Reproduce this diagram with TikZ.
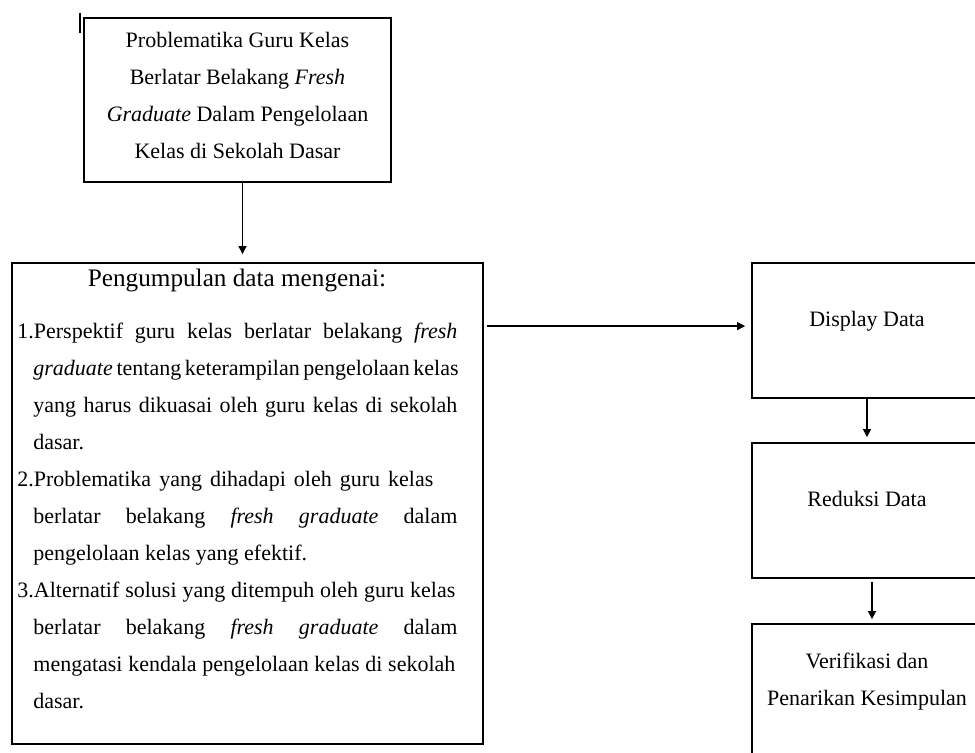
\documentclass[tikz,border=0pt]{standalone}
\usepackage{fontspec}
\setmainfont{Liberation Serif}
\usepackage{tikz}
\usetikzlibrary{positioning,arrows.meta}
\newcommand{\rata}[2]{\makebox[#1][s]{#2}}

\begin{document}
\begin{tikzpicture}[x=0.5pt,y=-0.5pt,
  kotak/.style={draw,line width=0.9pt,inner sep=0pt},
  teks/.style={font=\fontsize{11}{18.5}\selectfont},
  panah/.style={-{Triangle[length=4pt,width=4pt]},line width=0.6pt}]
\clip (0,0) rectangle (975,753);
% kursor kecil di kiri atas
\draw[line width=1pt] (80,13) -- (80,33);
\node[kotak,minimum width=153.5pt,minimum height=82pt] (masalah) at (237.5,100) {};
\node[teks,align=center,inner sep=0pt] (masalahteks) at (237.5,95) {Problematika Guru Kelas\\ Berlatar Belakang \textit{Fresh}\\ \textit{Graduate} Dalam Pengelolaan\\ Kelas di Sekolah Dasar};
\node[kotak,minimum width=235.5pt,minimum height=240.5pt] (kumpul) at (247.5,503.5) {};
\node[anchor=base,inner sep=0pt,font=\fontsize{12.6}{15}\selectfont] (judul) at (237,287) {Pengumpulan data mengenai:};
\node[teks,anchor=base west,inner sep=0pt,text width=220pt,align=left] (isi) at (17,339) {\spaceskip=0pt\relax
\rata{220pt}{1.Perspektif guru kelas berlatar belakang \textit{fresh}}\\
\hspace*{8pt}\rata{212pt}{\textit{graduate} tentang keterampilan pengelolaan kelas}\\
\hspace*{8pt}\rata{212pt}{yang harus dikuasai oleh guru kelas di sekolah}\\
\hspace*{8pt}dasar.\\
\rata{208pt}{2.Problematika yang dihadapi oleh guru kelas}\\
\hspace*{8pt}\rata{212pt}{berlatar belakang \textit{fresh} \textit{graduate} dalam}\\
\hspace*{8pt}pengelolaan kelas yang efektif.\\
\rata{219pt}{3.Alternatif solusi yang ditempuh oleh guru kelas}\\
\hspace*{8pt}\rata{212pt}{berlatar belakang \textit{fresh} \textit{graduate} dalam}\\
\hspace*{8pt}\rata{211pt}{mengatasi kendala pengelolaan kelas di sekolah}\\
\hspace*{8pt}dasar.};
\node[kotak,teks,minimum width=115pt,minimum height=67.5pt,text depth=12pt] (display) at (867,330.5) {Display Data};
\node[kotak,teks,minimum width=115pt,minimum height=67.5pt,text depth=12pt] (reduksi) at (867,510.5) {Reduksi Data};
\node[kotak,teks,align=center,minimum width=115pt,minimum height=67.5pt,text depth=12pt] (verifikasi) at (867,691.5) {Verifikasi dan\\ Penarikan Kesimpulan};
\draw[panah,shorten >=4pt] ([xshift=2.5pt]masalah.south) -- ([xshift=2.5pt]masalah.south |- kumpul.north);
\draw[panah,shorten <=1.5pt,shorten >=3pt] ([yshift=-32pt]kumpul.north east) -- ([yshift=-32pt]kumpul.north east -| display.west);
\draw[panah,shorten >=2.5pt] (display.south) -- (reduksi.north);
\draw[panah,shorten <=1.5pt,shorten >=2pt] ([xshift=2.5pt]reduksi.south) -- ([xshift=2.5pt]verifikasi.north);
\end{tikzpicture}
\end{document}
